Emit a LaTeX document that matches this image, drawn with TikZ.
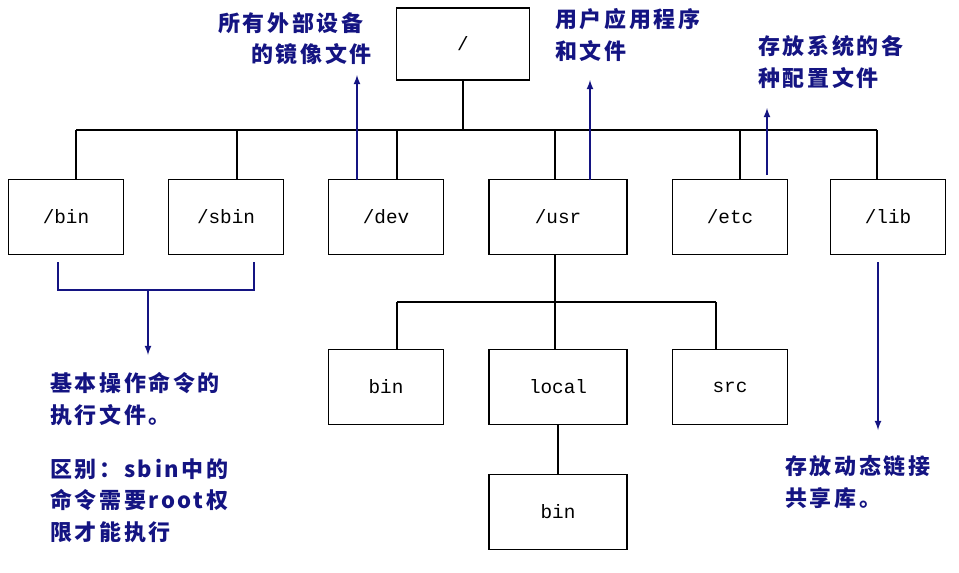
\documentclass[tikz,border=0pt]{standalone}
\usepackage{fontspec}
\setmonofont{Liberation Mono}
\newfontfamily\cjk[LetterSpace=12]{Noto Sans CJK SC}
\definecolor{note}{RGB}{20,20,130}
\begin{document}
\begin{tikzpicture}[x=0.02cm,y=-0.02cm,
  dir/.style={draw,thick,minimum width=2.3cm,minimum height=1.5cm,font=\ttfamily\fontsize{11}{13}\selectfont},
  lbl/.style={text=note,font=\cjk\bfseries\fontsize{12.5}{18}\selectfont,align=left,anchor=north west,inner sep=0pt},
  arr/.style={-latex,note,thick}]
\useasboundingbox (0,0) rectangle (959,572);

\node[dir,minimum width=2.66cm,minimum height=1.44cm] (root) at (463,44) {/};
\node[dir] (bin) at (66,217) {/bin};
\node[dir] (sbin) at (226,217) {/sbin};
\node[dir] (dev) at (386,217) {/dev};
\node[dir,minimum width=2.76cm] (usr) at (558,217) {/usr};
\node[dir] (etc) at (730,217) {/etc};
\node[dir] (lib) at (888,217) {/lib};

\node[dir] (ubin) at (386,387) {bin};
\node[dir,minimum width=2.76cm] (local) at (558,387) {local};
\node[dir] (src) at (730,387) {src};
\node[dir,minimum width=2.76cm] (lbin) at (558,512) {bin};

% tree lines
\coordinate (bus) at (463,130);
\draw[thick] (root) -- (bus);
\draw[thick] (76,130) -- (877,130);
\foreach \n/\x in {bin/76,sbin/237,dev/397,usr/555,etc/740,lib/877}
  \draw[thick] (\x,130) -- (\x,180);
\draw[thick] (555,255) -- (555,302);
\draw[thick] (397,302) -- (716,302);
\foreach \x in {397,555,716}
  \draw[thick] (\x,302) -- (\x,350);
\draw[thick] (local) -- (lbin);

% notes
\draw[arr] (357,180) -- (357,75);
\node[lbl] (devnote) at (218,12) {所有外部设备\\\hspace{1.5em}的镜像文件};
\draw[arr] (590,180) -- (590,80);
\node[lbl] (usrnote) at (555,8) {用户应用程序\\和文件};
\draw[arr] (767,175) -- (767,108);
\node[lbl] (etcnote) at (758,35) {存放系统的各\\种配置文件};
\draw[arr] (878,262) -- (878,430);
\node[lbl] (libnote) at (785,455) {存放动态链接\\共享库。};
\draw[note,thick] (58,262) -- (58,290) -- (254,290) -- (254,262);
\draw[arr] (148,290) -- (148,355);
\node[lbl] (binnote) at (50,372) {基本操作命令的\\执行文件。};
\node[lbl] (diffnote) at (50,458) {区别：sbin中的\\命令需要root权\\限才能执行};
\end{tikzpicture}
\end{document}
